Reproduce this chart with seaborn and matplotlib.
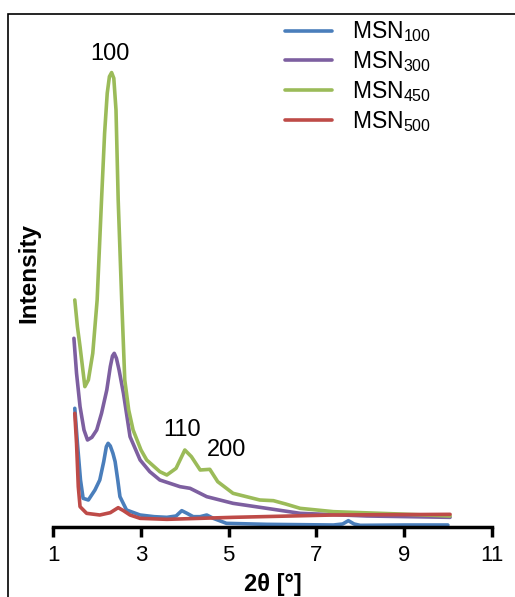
import numpy as np
import pandas as pd
import seaborn as sns
import matplotlib.pyplot as plt
from matplotlib.patches import Rectangle

# XRD patterns (2theta in degrees, intensity in arbitrary units)
x_100 = [1.49, 1.55, 1.62, 1.68, 1.8, 1.95, 2.06, 2.15, 2.21, 2.25, 2.3, 2.36, 2.41, 2.47,
         2.52, 2.67, 2.98, 3.3, 3.59, 3.8, 3.93, 4.05, 4.19, 4.35, 4.5, 4.65, 4.95, 5.87,
         7.39, 7.6, 7.73, 7.86, 8.0, 9.0, 10.0]
i_100 = [355, 250, 140, 85, 80, 110, 140, 195, 240, 250, 242, 220, 195, 140,
         90, 50, 35, 30, 28, 32, 48, 40, 30, 30, 35, 25, 10, 7,
         5, 8, 18, 8, 4, 5, 5]

x_300 = [1.47, 1.53, 1.61, 1.7, 1.78, 1.88, 1.99, 2.1, 2.22, 2.3, 2.35, 2.39, 2.44, 2.5,
         2.6, 2.75, 2.98, 3.2, 3.43, 3.89, 4.12, 4.5, 5.1, 5.87, 6.63, 8.15, 10.05]
i_300 = [565, 460, 360, 290, 260, 268, 290, 340, 410, 480, 512, 520, 505, 470,
         400, 270, 200, 165, 140, 120, 115, 90, 70, 55, 40, 32, 28]

x_450 = [1.49, 1.55, 1.61, 1.72, 1.8, 1.9, 2.0, 2.1, 2.17, 2.23, 2.28, 2.33, 2.38, 2.43,
         2.48, 2.56, 2.63, 2.72, 2.82, 3.0, 3.13, 3.43, 3.59, 3.8, 4.0, 4.15, 4.35, 4.57,
         4.75, 5.1, 5.71, 6.02, 6.3, 6.63, 7.39, 8.9, 10.05]
i_450 = [680, 600, 540, 420, 440, 520, 680, 980, 1180, 1300, 1350, 1362, 1345, 1250,
         980, 680, 440, 350, 290, 230, 200, 165, 155, 175, 230, 210, 170, 172,
         135, 100, 80, 78, 68, 55, 45, 38, 32]

x_500 = [1.49, 1.53, 1.57, 1.61, 1.76, 2.06, 2.3, 2.48, 2.6, 2.75, 2.98, 3.59, 5.1, 7.39, 10.05]
i_500 = [340, 250, 120, 60, 40, 35, 42, 57, 48, 35, 25, 22, 28, 35, 37]

samples = ["MSN$_{100}$", "MSN$_{300}$", "MSN$_{450}$", "MSN$_{500}$"]
colors = ["#4a7ebb", "#7d5fa0", "#9bbb59", "#be4b48"]

# peak labels (Miller indices)
peak_labels = ["100", "110", "200"]
peak_x = [2.29, 3.94, 4.96]
peak_y = [1418, 290, 230]

sns.set_style("white")
plt.rcParams["font.family"] = ["Liberation Sans", "DejaVu Sans"]
plt.rcParams["mathtext.fontset"] = "custom"
plt.rcParams["mathtext.rm"] = "Liberation Sans"
plt.rcParams["mathtext.it"] = "Liberation Sans"
plt.rcParams["text.color"] = "black"
plt.rcParams["axes.labelcolor"] = "black"
plt.rcParams["xtick.color"] = "black"

frames = []
for name, xs, ys in zip(samples, [x_100, x_300, x_450, x_500], [i_100, i_300, i_450, i_500]):
    frames.append(pd.DataFrame({"two_theta": xs, "intensity": ys, "sample": name}))
df = pd.concat(frames, ignore_index=True)

fig = plt.figure(figsize=(5.15, 5.97), dpi=100)
ax = fig.add_axes([0.1035, 0.1178, 0.8513, 0.85])

sns.lineplot(data=df, x="two_theta", y="intensity", hue="sample", hue_order=samples,
             palette=dict(zip(samples, colors)), linewidth=2.6, sort=False,
             estimator=None, ax=ax)

ax.set_xlim(1, 11)
ax.set_ylim(0, 1522)
ax.set_xticks([1, 3, 5, 7, 9, 11])
ax.set_yticks([])
for s in ["left", "top", "right"]:
    ax.spines[s].set_visible(False)
ax.spines["bottom"].set_linewidth(2.5)
ax.spines["bottom"].set_color("black")
ax.tick_params(axis="x", direction="out", length=7, width=2.5, color="black",
               labelsize=16, pad=6, bottom=True)

ax.set_xlabel("2θ [°]", fontsize=17, fontweight="bold", labelpad=5)
ax.set_ylabel("Intensity", fontsize=17.5, fontweight="bold", labelpad=9)

for lab, px, py in zip(peak_labels, peak_x, peak_y):
    ax.text(px, py, lab, fontsize=17, ha="center", va="center")

ax.legend(handles=ax.get_lines()[:4], labels=samples, loc="upper left",
          bbox_to_anchor=(0.482, 1.04), frameon=False, fontsize=16.5,
          handlelength=2.05, handletextpad=0.85, labelspacing=0.22)

# outer frame around the figure
fig.patches.append(Rectangle((8 / 515, -0.2), 1.2, 0.2 + (597 - 14) / 597,
                             transform=fig.transFigure, fill=False,
                             edgecolor="black", linewidth=1.2))

fig.savefig("out.png", dpi=100)
